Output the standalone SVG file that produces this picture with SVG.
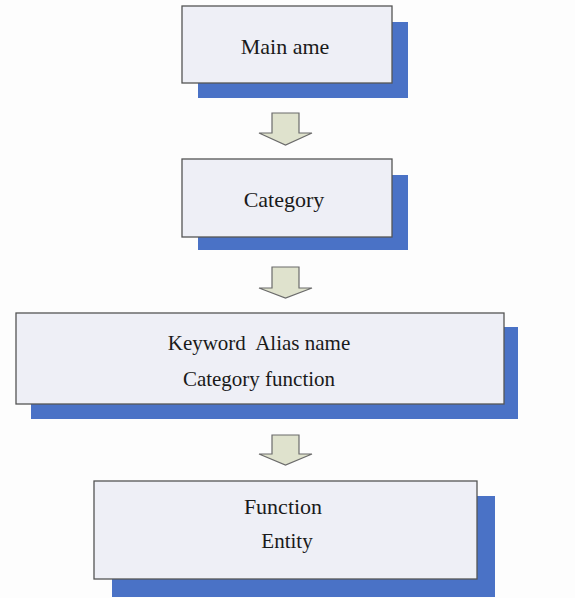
<svg xmlns="http://www.w3.org/2000/svg" width="575" height="598" viewBox="0 0 575 598">
<style>
.shadow{fill:#4a72c6;}
.box{fill:#eeeff6;stroke:#555;stroke-width:1.3;}
.t{font-family:"Liberation Serif","Times New Roman",serif;fill:#1a1a1a;text-anchor:middle;}
.arr{fill:#dfe2cd;stroke:#6b6b6b;stroke-width:1.2;stroke-linejoin:miter;}
</style>
<rect width="575" height="598" fill="#fdfdfd"/>
<g id="node-main">
<rect class="shadow" x="198" y="22" width="210" height="76"/>
<rect class="box" x="182" y="6" width="210" height="77"/>
<text class="t" x="285" y="54" font-size="22">Main ame</text>
</g>
<g id="node-category">
<rect class="shadow" x="198" y="175" width="210" height="75"/>
<rect class="box" x="182" y="159" width="210" height="78"/>
<text class="t" x="284" y="207" font-size="22">Category</text>
</g>
<g id="node-keyword">
<rect class="shadow" x="31" y="327" width="487" height="92"/>
<rect class="box" x="16" y="313" width="488" height="91"/>
<text class="t" x="259" y="350" font-size="21" xml:space="preserve">Keyword  Alias name</text>
<text class="t" x="259" y="386" font-size="21">Category function</text>
</g>
<g id="node-function">
<rect class="shadow" x="112" y="496" width="383" height="101"/>
<rect class="box" x="94" y="481" width="383" height="98"/>
<text class="t" x="283" y="514" font-size="22">Function</text>
<text class="t" x="287" y="548" font-size="21">Entity</text>
</g>
<g id="connectors">
<path class="arr" d="M272,113 H299 V133 H312 L285.5,145 L259,133 H272 Z"/>
<path class="arr" d="M272,267 H299 V288 H312 L285.5,298 L259,288 H272 Z"/>
<path class="arr" d="M272,435 H299 V454 H312 L285.5,465 L259,454 H272 Z"/>
</g>
</svg>
